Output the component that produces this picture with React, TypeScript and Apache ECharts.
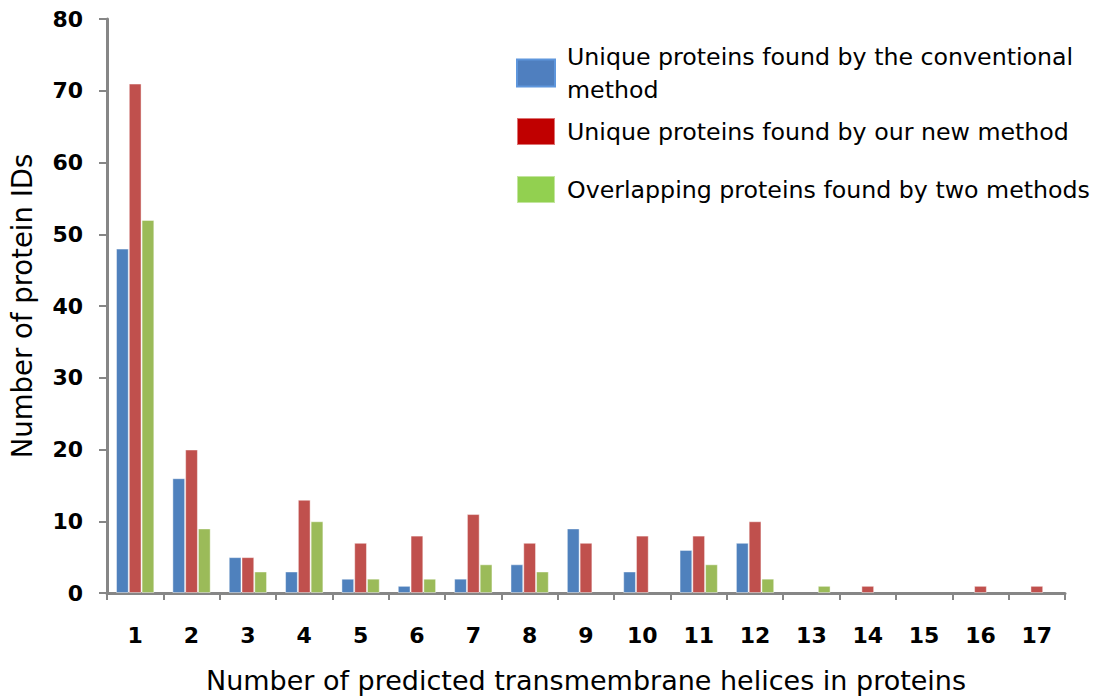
import React, { useEffect, useRef } from "react";
import * as echarts from "echarts";

const categories = ["1","2","3","4","5","6","7","8","9","10","11","12","13","14","15","16","17"];
const conventional = [48,16,5,3,2,1,2,4,9,3,6,7,0,0,0,0,0];
const newMethod = [71,20,5,13,7,8,11,7,7,8,8,10,0,1,0,1,1];
const overlapping = [52,9,3,10,2,2,4,3,0,0,4,2,1,0,0,0,0];
const yTicks = [0, 10, 20, 30, 40, 50, 60, 70, 80];

const seriesNames = [
  "Unique proteins found by the conventional method",
  "Unique proteins found by our new method",
  "Overlapping proteins found by two methods",
];

const FONT = "'DejaVu Sans', 'Liberation Sans', Arial, sans-serif";

// zero counts draw no bar
const asBars = (arr: number[]) => arr.map((v) => (v === 0 ? null : v));

export default function App() {
  const ref = useRef<HTMLDivElement>(null);
  useEffect(() => {
    document.body.style.margin = "0";
    const chart = echarts.init(ref.current!, undefined, { renderer: "svg" });
    const axisColor = "#868686";
    const legendText = { fontFamily: FONT, fontSize: 23.7, color: "#000", lineHeight: 33, padding: [0, 0, 0, 7] };
    const legendBase = {
      orient: "vertical" as const,
      icon: "rect",
      itemWidth: 38,
      itemHeight: 27,
      itemGap: 0,
      selectedMode: false,
      padding: 0,
      textStyle: legendText,
    };
    const barBorder = { borderColor: "rgba(255,255,255,0.45)", borderWidth: 1 };
    chart.setOption({
      animation: false,
      backgroundColor: "#fff",
      textStyle: { fontFamily: FONT },
      grid: { left: 106, top: 19, right: 32, bottom: 107, containLabel: false },
      legend: [
        {
          ...legendBase,
          left: 516,
          top: 35,
          data: [{ name: seriesNames[0], itemStyle: { color: "#4F7FBF", borderColor: "#5E96DC", borderWidth: 2 } }],
          formatter: () => "Unique proteins found by the conventional\nmethod",
          textStyle: { ...legendText, padding: [10, 0, 0, 7] },
        },
        {
          ...legendBase,
          left: 516,
          top: 115,
          data: [{ name: seriesNames[1], itemStyle: { color: "#C00000" } }],
        },
        {
          ...legendBase,
          left: 516,
          top: 173,
          data: [{ name: seriesNames[2], itemStyle: { color: "#92D050" } }],
        },
      ],
      xAxis: {
        type: "category",
        data: categories,
        name: "Number of predicted transmembrane helices in proteins",
        nameLocation: "middle",
        nameGap: 74,
        nameTextStyle: { fontFamily: FONT, fontSize: 27, color: "#000" },
        axisLine: { lineStyle: { color: axisColor, width: 3 } },
        axisTick: { show: true, length: 7, lineStyle: { color: axisColor, width: 2 } },
        axisLabel: { fontFamily: FONT, fontSize: 22, fontWeight: "bold", color: "#000", margin: 31 },
      },
      yAxis: {
        type: "value",
        min: yTicks[0],
        max: yTicks[yTicks.length - 1],
        interval: 10,
        name: "Number of protein IDs",
        nameLocation: "middle",
        nameGap: 71,
        nameTextStyle: { fontFamily: FONT, fontSize: 27.5, color: "#000" },
        axisLine: { show: true, lineStyle: { color: axisColor, width: 3 } },
        axisTick: { show: true, length: 8, lineStyle: { color: axisColor, width: 2 } },
        splitLine: { show: false },
        axisLabel: { fontFamily: FONT, fontSize: 22, fontWeight: "bold", color: "#000", margin: 24 },
      },
      series: [
        {
          name: seriesNames[0],
          type: "bar",
          data: asBars(conventional),
          barGap: "0%",
          barCategoryGap: "32%",
          itemStyle: { color: "#4F81BD", ...barBorder },
        },
        {
          name: seriesNames[1],
          type: "bar",
          data: asBars(newMethod),
          itemStyle: { color: "#C0504D", ...barBorder },
        },
        {
          name: seriesNames[2],
          type: "bar",
          data: asBars(overlapping),
          itemStyle: { color: "#9BBB59", ...barBorder },
        },
      ],
    });
    return () => chart.dispose();
  }, []);
  return <div ref={ref} style={{ width: 1097, height: 700 }} />;
}
